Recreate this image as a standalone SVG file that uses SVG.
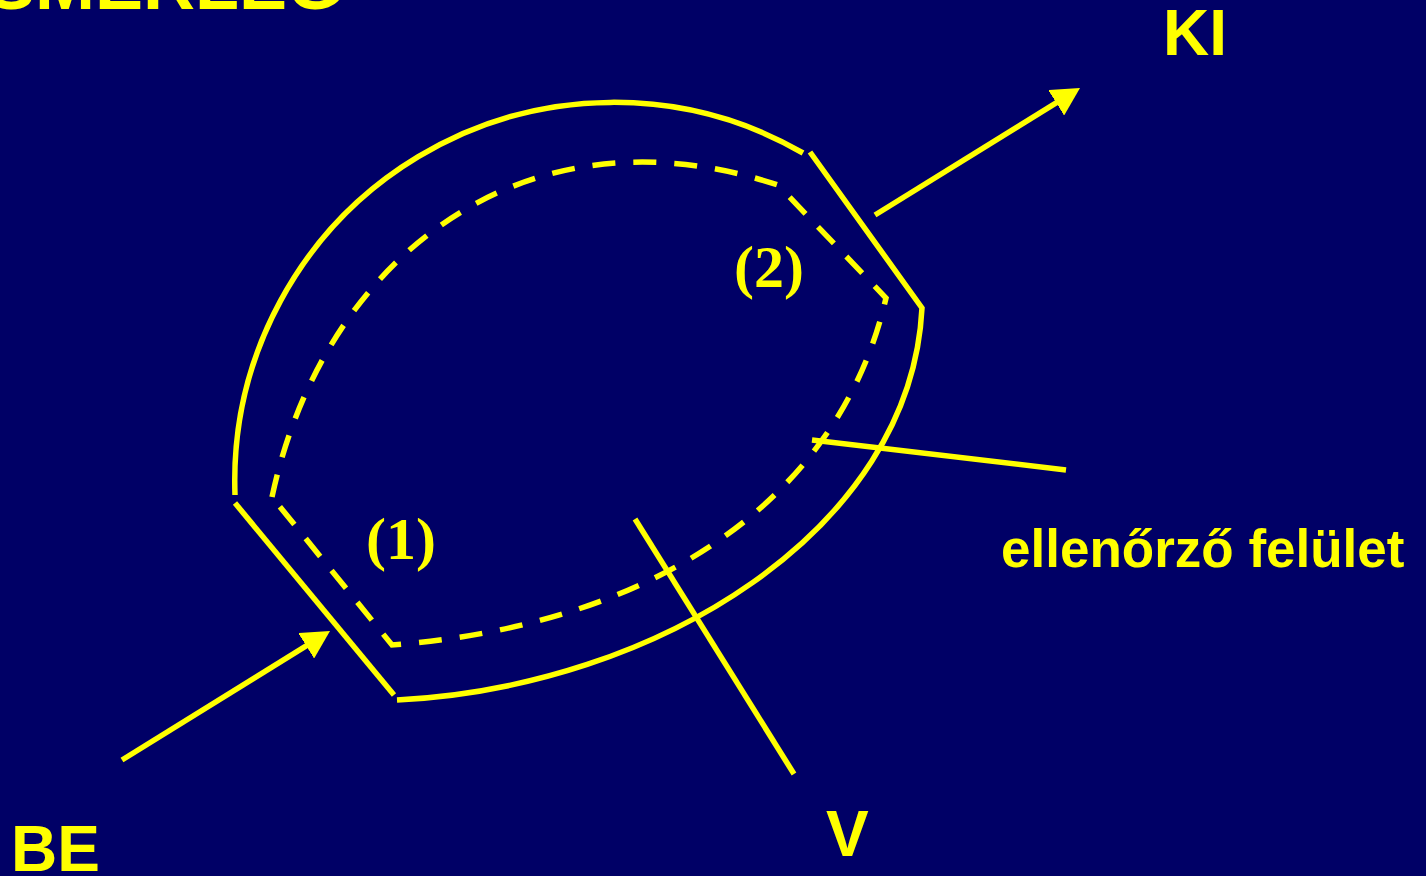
<svg xmlns="http://www.w3.org/2000/svg" width="1426" height="876" viewBox="0 0 1426 876">
<style>
.ln{fill:none;stroke:#FFFF00;stroke-width:5.5;stroke-linecap:butt;stroke-linejoin:miter}
.dash{stroke-dasharray:23 18}
.lbl{fill:#FFFF00;font-family:"Liberation Sans",Arial,sans-serif;font-weight:bold}
.num{fill:#FFFF00;font-family:"Liberation Serif","Times New Roman",serif;font-weight:bold;font-size:60px}
</style>
<defs>
<marker id="ah" markerUnits="userSpaceOnUse" viewBox="0 0 28 30" refX="18" refY="15" markerWidth="28" markerHeight="30" orient="auto">
<path d="M0,0 L28,15 L0,30 Z" fill="#FFFF00"/>
</marker>
</defs>
<rect width="1426" height="876" fill="#000066"/>
<g id="title"><text class="lbl" x="343" y="9" font-size="72" text-anchor="end">SMÉRLEG</text></g>
<g id="control-volume">
<path class="ln" d="M235,495 A379,379 0 0 1 803,153"/>
<path class="ln" d="M810,152 L922,308 C911,530 657,687 397,700"/>
<path class="ln" d="M235,503 L394,695"/>
<path class="ln dash" d="M272,497 C322,262 520,100 778,185 L886,298 C838.75,502.5 651.2,625 392,645 Z"/>
</g>
<g id="connectors">
<line class="ln" x1="122" y1="760" x2="321.5" y2="636.3" marker-end="url(#ah)"/>
<line class="ln" x1="875" y1="215" x2="1071.5" y2="93.3" marker-end="url(#ah)"/>
<line class="ln" x1="812" y1="440" x2="1066" y2="470"/>
<line class="ln" x1="635" y1="519" x2="794" y2="774"/>
</g>
<g id="label-be"><text class="lbl" x="11" y="871" font-size="64">BE</text></g>
<g id="label-ki"><text class="lbl" x="1163" y="55" font-size="64">KI</text></g>
<g id="label-v"><text class="lbl" x="826" y="856" font-size="64">V</text></g>
<g id="label-surface"><text class="lbl" x="1001" y="567" font-size="53">ellenőrző felület</text></g>
<g id="label-1"><text class="num" x="366" y="559">(1)</text></g>
<g id="label-2"><text class="num" x="734" y="287">(2)</text></g>
</svg>
